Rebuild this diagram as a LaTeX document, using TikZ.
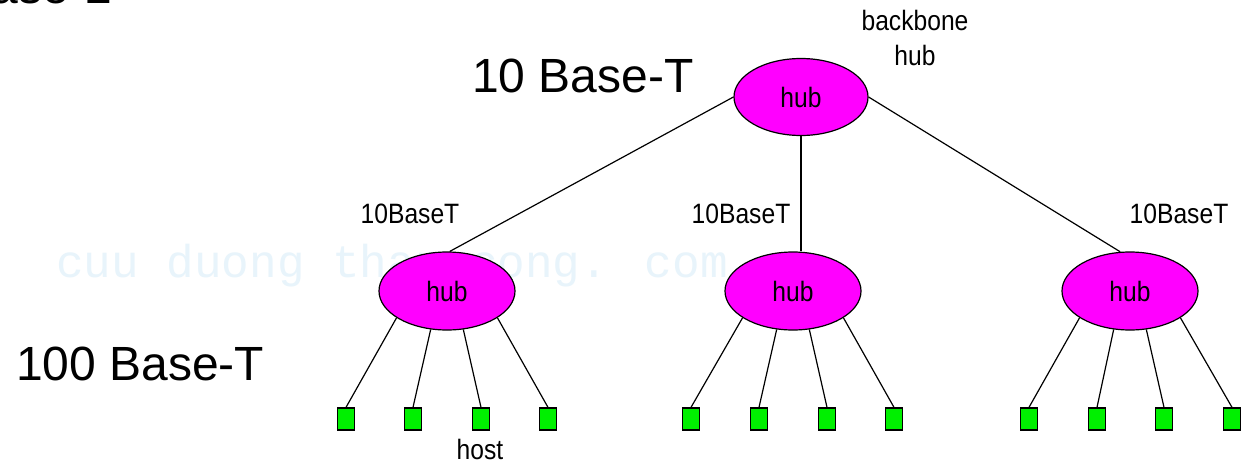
\documentclass[tikz,border=0pt]{standalone}
\usepackage{fontspec}
\setmainfont{Liberation Sans}
\newfontfamily\smallf[FakeStretch=0.88]{Liberation Sans}
\newfontfamily\wmfont{Liberation Mono}
\usetikzlibrary{shapes.geometric}
\definecolor{hubfill}{RGB}{255,0,255}
\definecolor{hostfill}{RGB}{0,240,0}
\definecolor{wmcol}{RGB}{232,244,251}
\tikzset{
  hubnode/.style={ellipse, draw=black, line width=1.2pt, fill=hubfill, minimum width=136pt, minimum height=78pt, inner sep=0pt, font=\smallf\fontsize{28}{32}\selectfont},
  hostnode/.style={rectangle, draw=black, line width=1.3pt, fill=hostfill, minimum width=17pt, minimum height=22pt, inner sep=0pt},
  link/.style={draw=black, line width=1.2pt},
  smalllabel/.style={font=\smallf\fontsize{28}{32}\selectfont, inner sep=0pt, anchor=base},
  biglabel/.style={font=\fontsize{48}{54}\selectfont, inner sep=0pt, anchor=base west},
}
\begin{document}
\begin{tikzpicture}[x=1pt,y=-1pt]
\useasboundingbox (0,0) rectangle (1245,463);
\clip (0,0) rectangle (1245,463);
\fill[white] (0,0) rectangle (1245,463);
% watermark
\node[font=\wmfont\fontsize{46}{50}\selectfont, text=wmcol, inner sep=0pt, anchor=base west] (wm) at (56,277) {cuu duong than cong. com};
% cut-off title
\node[biglabel, anchor=base east] (title) at (112,4) {ase-2};
% hubs
\node[hubnode, minimum width=134pt, minimum height=77pt] (bb) at (801,97) {hub};
\node[hubnode] (h1) at (447,291) {hub};
\node[hubnode] (h2) at (793,291) {hub};
\node[hubnode] (h3) at (1130,291) {hub};
% hosts
\foreach \n/\x in {1/346,2/413,3/481,4/548}{\node[hostnode] (a\n) at (\x,419) {};}
\foreach \n/\x in {1/691,2/759,3/827,4/894}{\node[hostnode] (b\n) at (\x,419) {};}
\foreach \n/\x in {1/1029,2/1097,3/1164,4/1232}{\node[hostnode] (c\n) at (\x,419) {};}
% backbone links
\draw[link] (bb.west) -- (h1.86);
\draw[link] (bb.south) -- (bb.south |- h2.north);
\draw[link] (bb.east) -- (h3.104);
% host links
\foreach \h/\g in {h1/a,h2/b,h3/c}{
  \draw[link] (\h.-152) -- (\g1.north);
  \draw[link] (\h.-113) -- (\g2.north);
  \draw[link] (\h.-67) -- (\g3.north);
  \draw[link] (\h.-28) -- (\g4.north);
}
% labels
\node[smalllabel] (lbb1) at (915,30) {backbone};
\node[smalllabel] (lbb2) at (915,65) {hub};
\node[smalllabel] (l1) at (410,223) {10BaseT};
\node[smalllabel] (l2) at (741,223) {10BaseT};
\node[smalllabel] (l3) at (1179,223) {10BaseT};
\node[smalllabel] (lhost) at (480,459) {host};
\node[biglabel] (t10) at (472,92) {10 Base-T};
\node[biglabel] (t100) at (16,380) {100 Base-T};
\end{tikzpicture}
\end{document}
